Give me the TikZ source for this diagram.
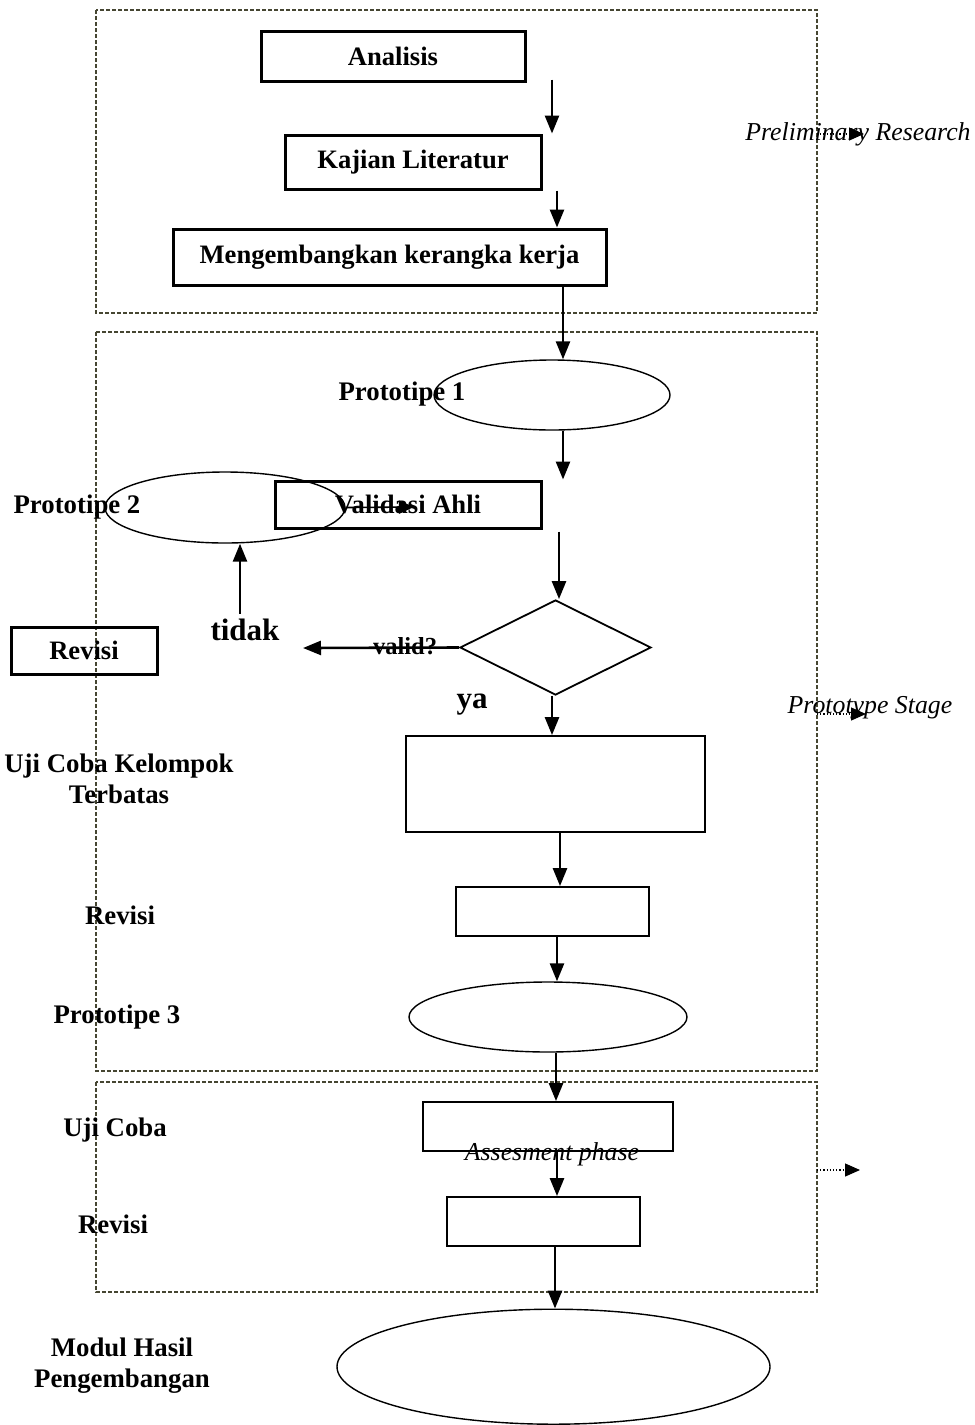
\documentclass[tikz,border=0pt]{standalone}
\usepackage{fontspec}
\setmainfont{Liberation Serif}
\usetikzlibrary{arrows.meta,shapes.geometric}
\definecolor{frame}{RGB}{70,70,50}
\tikzset{
  arr/.style={line width=2.6pt,-{Triangle[width=14pt,length=18pt]}},
  darr/.style={line width=1.2pt,dotted,-{Triangle[width=13pt,length=15pt]}},
  frm/.style={draw=frame,line width=1.1pt,dash pattern=on 4pt off 2pt},
  tbox/.style={draw,line width=3pt,inner sep=0pt,font=\bfseries\fontsize{26.6}{31}\selectfont},
  ebox/.style={draw,line width=1.8pt,inner sep=0pt},
  ell/.style={draw,ellipse,line width=1.4pt,inner sep=0pt},
  lbl/.style={font=\bfseries\fontsize{26.8}{31}\selectfont,align=center,inner sep=0pt},
  big/.style={font=\bfseries\fontsize{31}{36}\selectfont,inner sep=0pt},
  ital/.style={font=\itshape\fontsize{25.8}{30}\selectfont,inner sep=0pt}
}
\begin{document}
\begin{tikzpicture}[x=1pt,y=-1pt]
\useasboundingbox (0,0) rectangle (975,1425);
% frames
\draw[frm] (96,10) rectangle (817,313);
\draw[frm] (96,332) rectangle (817,1071);
\draw[frm] (96,1082) rectangle (817,1292);
% boxes
\node[tbox,minimum width=264pt,minimum height=50pt] (analisis) at (393,56) {\raisebox{-2pt}{Analisis}};
\node[tbox,minimum width=256pt,minimum height=54pt] (kajian) at (413,162) {Kajian Literatur};
\node[tbox,minimum width=433pt,minimum height=56pt] (mk) at (389.5,257) {Mengembangkan kerangka kerja};
\node[ell,minimum width=236pt,minimum height=70pt] (p1) at (552,395) {};
\node[lbl] (p1l) at (402,394) {Prototipe 1};
\node[ell,minimum width=240pt,minimum height=71pt] (p2) at (225,507.5) {};
\node[lbl] (p2l) at (77,507) {Prototipe 2};
\node[tbox,minimum width=266pt,minimum height=47pt] (val) at (408,504.5) {\raisebox{-1pt}{Validasi Ahli}};
\node[draw,diamond,line width=1.8pt,inner sep=0pt,minimum width=191pt,minimum height=95pt] (dia) at (555.5,647.5) {};
\node[tbox,minimum width=146pt,minimum height=47pt] (rev1) at (84,650.5) {\raisebox{-1pt}{Revisi}};
\node[ebox,minimum width=299pt,minimum height=96pt] (uk) at (555.5,784) {};
\node[ebox,minimum width=193pt,minimum height=49pt] (rev2) at (552.5,911.5) {};
\node[ell,minimum width=278pt,minimum height=70pt] (p3) at (548,1017) {};
\node[ebox,minimum width=250pt,minimum height=49pt] (uc) at (548,1126.5) {};
\node[ebox,minimum width=193pt,minimum height=49pt] (rev3) at (543.5,1221.5) {};
\node[ell,minimum width=433pt,minimum height=115pt] (mh) at (553.5,1366.7) {};
% left labels
\node[lbl] (ukl) at (119,779) {Uji Coba Kelompok\\Terbatas};
\node[lbl] (rev2l) at (120,915) {Revisi};
\node[lbl] (p3l) at (117,1017) {Prototipe 3};
\node[lbl] (ucl) at (115,1130) {Uji Coba};
\node[lbl] (rev3l) at (113,1224) {Revisi};
\node[lbl] (mhl) at (122,1366) {Modul Hasil\\Pengembangan};
\node[big] (tidak) at (245,630) {tidak};
\node[big] (ya) at (472,705) {ya};
% italic stage labels
\node[ital] (pr) at (858,134) {Preliminary Research};
\node[ital] (ps) at (870,708) {Prototype Stage};
\node[ital] (ap) at (552,1154) {Assesment phase};
\coordinate (prt) at (864,134);
\coordinate (pst) at (866,714);
\coordinate (apt) at (860,1170);
\coordinate (vt) at (414,507);
\coordinate (lt) at (303,648);
% connectors
\draw[arr] (analisis.south -| 552,0) ++(0,-3) -- (kajian.north -| 552,0);
\draw[arr] (kajian.south -| 557,0) -- (mk.north -| 557,0);
\draw[arr] (mk.south -| 563,0) -- (p1.north -| 563,0);
\draw[arr] (p1.south -| 563,0) -- (val.north -| 563,0);
\draw[arr] (val.south -| 559,0) ++(0,2) -- (dia.north -| 559,0);
\draw[arr] (dia.west) -- (lt);
\node[font=\bfseries\fontsize{24.5}{28}\selectfont,inner sep=0pt] (vl) at (405,646) {valid?};
\draw[arr] (tidak.north -| 240,0) ++(0,-5) -- (p2.south -| 240,0);
\draw[line width=1.6pt,-{Triangle[width=13pt,length=15pt]}] (p2.east) -- (vt);
\draw[arr] (dia.south -| 552,0) -- (uk.north -| 552,0);
\draw[arr] (uk.south -| 560,0) -- (rev2.north -| 560,0);
\draw[arr] (rev2.south -| 557,0) -- (p3.north -| 557,0);
\draw[arr] (p3.south -| 556,0) -- (uc.north -| 556,0);
\draw[arr] (uc.south -| 557,0) -- (rev3.north -| 557,0);
\draw[arr] (rev3.south -| 555,0) -- (mh.north -| 555,0);
\draw[darr] (817,134) -- (prt);
\draw[darr] (817,714) -- (pst);
\draw[darr] (817,1170) -- (apt);
\end{tikzpicture}
\end{document}
